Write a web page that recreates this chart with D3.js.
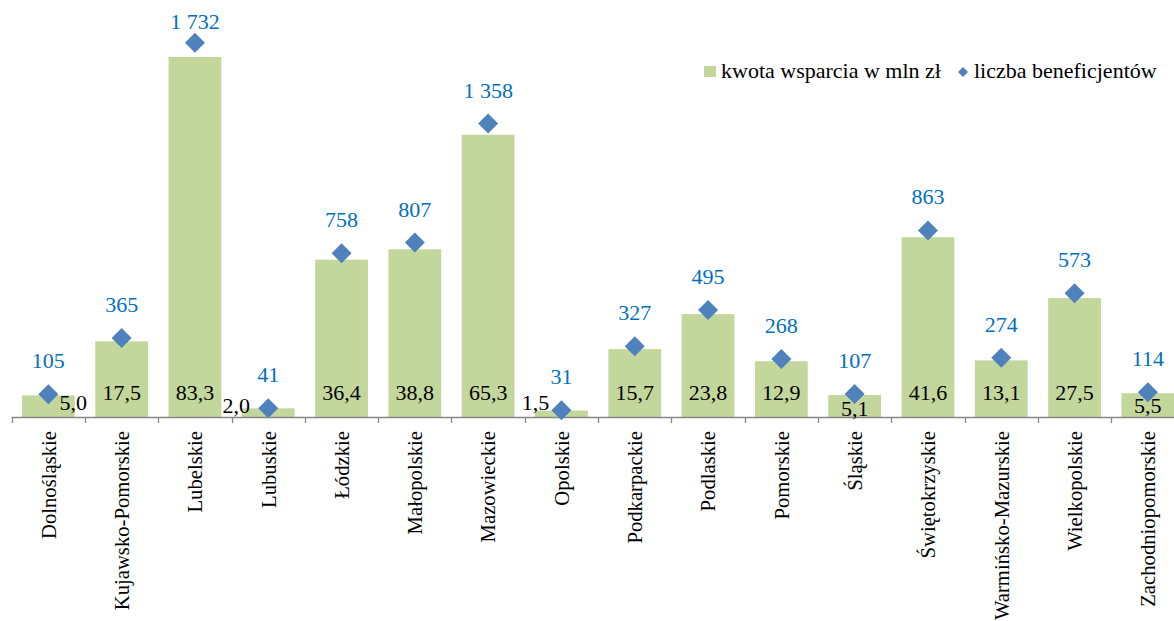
<!DOCTYPE html>
<html>
<head>
<meta charset="utf-8">
<script src="https://cdn.jsdelivr.net/npm/d3@7"></script>
<style>
  html, body { margin: 0; padding: 0; background: #fff; }
  svg { display: block; }
  svg text { font-family: "Liberation Serif", "DejaVu Serif", serif; }
</style>
</head>
<body>
<svg id="chart" width="1174" height="621"></svg>
<script>
// ---- data ----
const categories = ["Dolnośląskie", "Kujawsko-Pomorskie", "Lubelskie", "Lubuskie", "Łódzkie", "Małopolskie",
  "Mazowieckie", "Opolskie", "Podkarpackie", "Podlaskie", "Pomorskie", "Śląskie", "Świętokrzyskie",
  "Warmińsko-Mazurskie", "Wielkopolskie", "Zachodniopomorskie"];
const kwotaWsparcia = [5.0, 17.5, 83.3, 2.0, 36.4, 38.8, 65.3, 1.5, 15.7, 23.8, 12.9, 5.1, 41.6, 13.1, 27.5, 5.5];
const liczbaBeneficjentow = [105, 365, 1732, 41, 758, 807, 1358, 31, 327, 495, 268, 107, 863, 274, 573, 114];
const seriesNames = ["kwota wsparcia w mln zł", "liczba beneficjentów"];
const barAxisMax = 90;
const pointAxisMax = 1800;

// ---- label nudges (styling, px) ----
const barLabelDx = [25, 0, 0, -32, 0, 0, 0, -26, 0, 0, 0, 0, 0, 0, 0, 0];
const barLabelDy = [10, 0, 0, 13, 0, 0, 0, 10, 0, 0, 0, 16, 0, 0, 0, 13];
const pointLabelDy = [0, 0, 12, 0, 0, 0, 0, 0, 0, 0, 0, 0, 0, 0, 0, 0];

const FONT = "Liberation Serif";
const barColor = "#c3d69b";
const pointColor = "#4f81bd";
const pointLabelColor = "#0070c0";
const axisColor = "#868686";

const svg = d3.select("#chart");
const plotTop = 28, plotBottom = 417, plotLeft = 11.7, bandStep = 73.3;

const x = d3.scaleBand().domain(categories)
  .range([plotLeft, plotLeft + bandStep * categories.length]).padding(0);
const yBar = d3.scaleLinear().domain([0, barAxisMax]).range([plotBottom, plotTop]);
const yPt = d3.scaleLinear().domain([0, pointAxisMax]).range([plotBottom, plotTop]);

const loc = d3.formatLocale({ decimal: ",", thousands: " ", grouping: [3], currency: ["", " zł"] });
const fmt1 = loc.format(".1f");
const fmtInt = loc.format(",d");

const bw = x.bandwidth();
const barW = bw * 0.72;
const rows = categories.map((c, i) => ({ c, i, v: kwotaWsparcia[i], n: liczbaBeneficjentow[i] }));

// bars
svg.append("g").selectAll("rect").data(rows).join("rect")
  .attr("x", d => x(d.c) + bw / 2 - barW / 2)
  .attr("width", barW)
  .attr("y", d => yBar(d.v))
  .attr("height", d => yBar(0) - yBar(d.v))
  .attr("fill", barColor);

// axis
const axis = d3.axisBottom(x).tickSize(0).tickPadding(0);
const gx = svg.append("g").attr("transform", `translate(0,${plotBottom})`).call(axis);
gx.attr("font-family", FONT);
gx.select(".domain").remove();
gx.append("line").attr("x1", plotLeft).attr("x2", 1174).attr("y1", 0.5).attr("y2", 0.5)
  .attr("stroke", axisColor).attr("stroke-width", 1.3);
gx.selectAll(".bnd").data(categories).join("line").attr("class", "bnd")
  .attr("x1", d => Math.round(x(d)) + 0.5).attr("x2", d => Math.round(x(d)) + 0.5)
  .attr("y1", 0).attr("y2", 6).attr("stroke", axisColor).attr("stroke-width", 1.3);
gx.selectAll(".tick text")
  .attr("transform", "rotate(-90)")
  .attr("text-anchor", "end")
  .attr("x", -14).attr("y", 0).attr("dy", "0.35em")
  .style("font-family", FONT)
  .style("font-size", "20.7px").attr("fill", "#000");

// bar labels
svg.append("g").selectAll("text").data(rows).join("text")
  .attr("x", d => x(d.c) + bw / 2 + barLabelDx[d.i])
  .attr("y", d => yBar(0) - 17 + barLabelDy[d.i])
  .attr("text-anchor", "middle")
  .style("font-family", FONT)
  .style("font-size", "22px").attr("fill", "#000")
  .text(d => fmt1(d.v));

// diamonds
const dia = d3.symbol(d3.symbolSquare, 200);
svg.append("g").selectAll("path").data(rows).join("path")
  .attr("d", dia)
  .attr("transform", d => `translate(${x(d.c) + bw / 2},${yPt(d.n)}) rotate(45)`)
  .attr("fill", pointColor);

// point labels
svg.append("g").selectAll("text").data(rows).join("text")
  .attr("x", d => x(d.c) + bw / 2)
  .attr("y", d => yPt(d.n) - 26 + pointLabelDy[d.i])
  .attr("text-anchor", "middle")
  .style("font-family", FONT)
  .style("font-size", "22px").attr("fill", pointLabelColor)
  .text(d => fmtInt(d.n));

// legend
const lg = svg.append("g").style("font-family", FONT);
lg.append("rect").attr("x", 704).attr("y", 66).attr("width", 12).attr("height", 11).attr("fill", barColor);
lg.append("text").attr("x", 721).attr("y", 78).style("font-size", "22px").attr("fill", "#000").text(seriesNames[0]);
lg.append("path").attr("d", d3.symbol(d3.symbolSquare, 50)).attr("transform", "translate(963,72) rotate(45)").attr("fill", pointColor);
lg.append("text").attr("x", 974).attr("y", 78).style("font-size", "22px").attr("fill", "#000").text(seriesNames[1]);
</script>
</body>
</html>
